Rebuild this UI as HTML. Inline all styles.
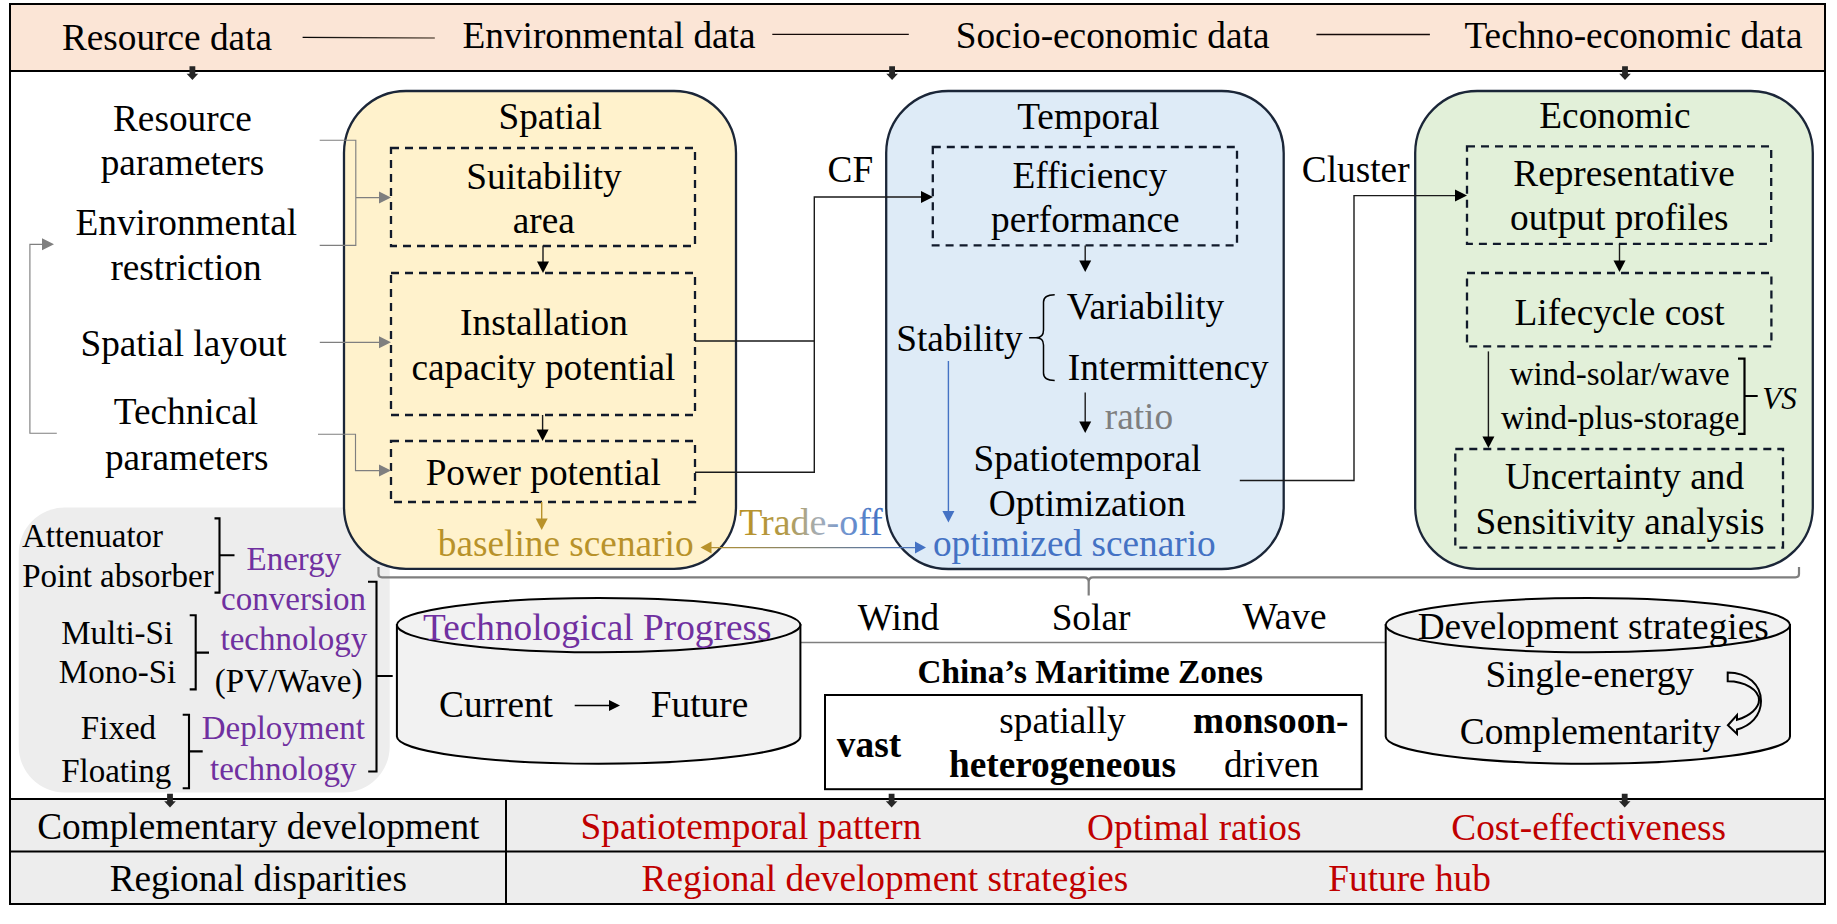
<!DOCTYPE html>
<html><head><meta charset="utf-8"><style>
html,body{margin:0;padding:0;background:#fff;overflow:hidden;}
svg{display:block;}
text{font-family:"Liberation Serif",serif;font-kerning:normal;}
</style></head><body>
<svg width="1837" height="924" viewBox="0 0 1837 924">
<defs>
<linearGradient id="tg" gradientUnits="userSpaceOnUse" x1="745" y1="0" x2="880" y2="0">
<stop offset="0" stop-color="#B8922A"/><stop offset="0.3" stop-color="#B29A4A"/><stop offset="0.55" stop-color="#A6AEB8"/><stop offset="0.75" stop-color="#6F93CF"/><stop offset="1" stop-color="#4472C4"/>
</linearGradient>
<linearGradient id="lg" gradientUnits="userSpaceOnUse" x1="700" y1="0" x2="926" y2="0">
<stop offset="0" stop-color="#B8922A"/><stop offset="1" stop-color="#4472C4"/>
</linearGradient>
<linearGradient id="hg" gradientUnits="userSpaceOnUse" x1="302" y1="0" x2="435" y2="0"><stop offset="0" stop-color="#000"/><stop offset="1" stop-color="#6f5f51"/></linearGradient>
</defs>
<rect x="0" y="0" width="1837" height="924" fill="#fff"/>
<!-- header band -->
<rect x="10" y="4" width="1815" height="67" fill="#FBE5D6"/>
<!-- table fill -->
<rect x="10" y="799" width="1815" height="105" fill="#EDEDED"/>
<!-- gray panel -->
<rect x="18.7" y="507.6" width="371" height="284.8" rx="46" fill="#EDEDED"/>
<!-- big rounded boxes -->
<g stroke="#1B2638" stroke-width="2.3">
<rect x="344" y="91" width="392" height="477.8" rx="62" fill="#FFF2CC"/>
<rect x="886.2" y="91" width="397.5" height="478" rx="62" fill="#DEEBF7"/>
<rect x="1415.2" y="91" width="397.6" height="477.8" rx="62" fill="#E2F0D9"/>
</g>
<!-- dashed boxes -->
<g fill="none" stroke="#111a2b" stroke-width="2.3" stroke-dasharray="8 6">
<rect x="391" y="148" width="304" height="98"/>
<rect x="391" y="273" width="304" height="142"/>
<rect x="391" y="441" width="304" height="61"/>
<rect x="932.8" y="147" width="304.2" height="98.4"/>
<rect x="1467" y="146.3" width="304.2" height="97.5"/>
<rect x="1467" y="273" width="304.4" height="73.4"/>
<rect x="1455.3" y="449" width="327.7" height="98.6"/>
</g>
<!-- outer frame and table lines -->
<g fill="none" stroke="#000" stroke-width="2">
<rect x="10" y="4" width="1815" height="900"/>
<line x1="10" y1="71" x2="1825" y2="71"/>
<line x1="10" y1="799" x2="1825" y2="799"/>
<line x1="10" y1="851.5" x2="1825" y2="851.5"/>
<line x1="506" y1="799" x2="506" y2="904"/>
</g>
<!-- header separator lines -->
<line x1="302.6" y1="37.4" x2="434.8" y2="38" stroke="url(#hg)" stroke-width="1.4"/>
<g stroke="#140a08" stroke-width="1.3">
<line x1="772.3" y1="34.4" x2="908.8" y2="34.4"/>
<line x1="1316.4" y1="34.5" x2="1429.9" y2="34.5"/>
</g>
<!-- block arrows -->
<g fill="#262626">
<path id="ba" d="M189.5,66.2 H195.3 V73.8 H198.2 L192.4,79.9 L186.6,73.8 H189.5 Z"/>
<use href="#ba" x="699.7"/><use href="#ba" x="1432.6"/>
<use href="#ba" x="-22.4" y="727.5"/><use href="#ba" x="699.2" y="727.5"/><use href="#ba" x="1432.3" y="727.5"/>
</g>
<!-- gray connectors -->
<g fill="none" stroke="#7F7F7F" stroke-width="1.15">
<path d="M319.7,140.2 H355.8 V245.3 H319.7 M355.8,197.6 H381"/>
<path d="M319.8,342.3 H381"/>
<path d="M318,434.2 H355.5 V470.6 H381"/>
<path d="M56.8,433.2 H29.9 V244.3 H44"/>
</g>
<g fill="#7F7F7F">
<path d="M391,197.6 l-12,-6 v12 z"/>
<path d="M391,342.3 l-12,-6 v12 z"/>
<path d="M391,470.6 l-12,-6 v12 z"/>
<path d="M54,244.3 l-12,-6 v12 z"/>
</g>
<!-- black connectors -->
<g fill="none" stroke="#1a1a1a" stroke-width="1.4">
<path d="M695,341 H814.3 V197 H922"/>
<path d="M695,472.3 H814.3 V341"/>
<path d="M1239.8,480.5 H1354 V195.6 H1456"/>
<path d="M543,245.5 V263"/>
<path d="M542.6,415 V431"/>
<path d="M1085.2,245.5 V262"/>
<path d="M1085.2,392.6 V423"/>
<path d="M1619.5,244 V262"/>
<path d="M1488.4,351.4 V437"/>
</g>
<g fill="#000">
<path d="M933,197 l-12,-6 v12 z"/>
<path d="M1467,195.6 l-12,-6 v12 z"/>
<path d="M543,273 l-6,-11.5 h12 z"/>
<path d="M542.6,441 l-6,-11.5 h12 z"/>
<path d="M1085.2,272 l-6,-11.5 h12 z"/>
<path d="M1085.2,433 l-6,-11.5 h12 z"/>
<path d="M1619.5,272 l-6,-11.5 h12 z"/>
<path d="M1488.4,448 l-6,-11.5 h12 z"/>
</g>
<!-- gold arrow -->
<path d="M541.7,502 V520" stroke="#B8922A" stroke-width="1.4"/>
<path d="M541.7,530 l-6,-11.5 h12 z" fill="#B8922A"/>
<!-- blue arrow -->
<path d="M948.4,361 V512" stroke="#4472C4" stroke-width="1.4"/>
<path d="M948.4,522.5 l-6,-11.5 h12 z" fill="#4472C4"/>
<!-- trade-off double arrow -->
<path d="M710,547.6 H916" stroke="url(#lg)" stroke-width="1.4"/>
<path d="M700.5,547.6 l11,-6 v12 z" fill="#B8922A"/>
<path d="M926,547.6 l-11,-6 v12 z" fill="#4472C4"/>
<!-- brace under boxes -->
<path d="M378.5,567 V574 Q378.5,577.3 382,577.3 H1084 Q1088.7,577.3 1088.7,582 V595.4 M1088.7,582 Q1088.7,577.3 1093,577.3 H1795.5 Q1799,577.3 1799,574 V567" fill="none" stroke="#7F7F7F" stroke-width="2.2"/>
<!-- stability brace -->
<path d="M1054.7,294.7 Q1043.5,294.7 1043.5,302 V330 Q1043.5,337.8 1036,337.8 H1029.1 M1036,337.8 Q1043.5,337.8 1043.5,345 V373 Q1043.5,380.5 1054.7,380.5" fill="none" stroke="#000" stroke-width="1.5"/>
<!-- VS bracket -->
<path d="M1738,358.6 H1744.5 V433.9 H1738 M1744.5,396 H1757.7" fill="none" stroke="#000" stroke-width="2.2"/>
<!-- gray panel brackets -->
<g fill="none" stroke="#000" stroke-width="2.1">
<path d="M214.5,518.4 H219.5 V592.6 H214.5 M219.5,555.2 H234.5"/>
<path d="M189.7,615.2 H195.7 V689.4 H189.7 M195.7,652.6 H209"/>
<path d="M182.7,714.8 H189 V788.2 H182.7 M189,751.4 H202.7"/>
<path d="M368,581.8 H376.5 V771.5 H368.2 M376.5,676 H392.7"/>
</g>
<!-- connector between cylinders -->
<line x1="800" y1="642.5" x2="1386" y2="642.5" stroke="#7F7F7F" stroke-width="1.6"/>
<!-- cylinders -->
<g fill="#F2F2F2" stroke="#000" stroke-width="2">
<path d="M396.9,625.1 V736.5 A201.75,27.3 0 0 0 800.4,736.5 V625.1 Z"/>
<ellipse cx="598.65" cy="625.1" rx="201.75" ry="27.1"/>
<path d="M1385.7,625.1 V736.5 A202.15,27.3 0 0 0 1790,736.5 V625.1 Z"/>
<ellipse cx="1587.85" cy="625.1" rx="202.15" ry="27.1"/>
</g>
<!-- current->future arrow -->
<path d="M574.7,705.5 H610" stroke="#000" stroke-width="1.4"/>
<path d="M620,705.5 l-11,-5.5 v11 z" fill="#000"/>
<!-- china box -->
<rect x="825" y="695" width="536.7" height="94.2" fill="#fff" stroke="#000" stroke-width="2"/>
<!-- curved arrow -->
<path d="M1727.7,672.4 C1748,672.4 1761,685 1761,701 C1761,716 1750,726 1737,729.5 L1737,734 L1727.9,725.3 L1737,715.2 L1737,719.8 C1750,716 1759,708 1759,700 C1759,690 1745,681.2 1727.7,681.2 Z" fill="#F2F2F2" stroke="#000" stroke-width="2" stroke-linejoin="miter"/>

<text x="61.88" y="50.30" font-size="37.3" fill="#000">Resource data</text>
<text x="462.44" y="48.00" font-size="37.3" fill="#000">Environmental data</text>
<text x="955.69" y="48.00" font-size="37.3" fill="#000">Socio-economic data</text>
<text x="1464.45" y="48.00" font-size="37.3" fill="#000">Techno-economic data</text>
<text x="112.99" y="130.50" font-size="37.3" fill="#000">Resource</text>
<text x="100.69" y="174.50" font-size="37.3" fill="#000">parameters</text>
<text x="75.46" y="235.00" font-size="37.3" fill="#000">Environmental</text>
<text x="110.39" y="279.50" font-size="37.3" fill="#000">restriction</text>
<text x="80.42" y="355.50" font-size="37.3" fill="#000">Spatial layout</text>
<text x="113.79" y="424.00" font-size="37.3" fill="#000">Technical</text>
<text x="104.94" y="469.50" font-size="37.3" fill="#000">parameters</text>
<text x="498.45" y="128.50" font-size="37.3" fill="#000">Spatial</text>
<text x="466.29" y="188.50" font-size="37.3" fill="#000">Suitability</text>
<text x="512.71" y="232.50" font-size="37.3" fill="#000">area</text>
<text x="460.09" y="335.00" font-size="37.3" fill="#000">Installation</text>
<text x="411.41" y="380.00" font-size="37.3" fill="#000">capacity potential</text>
<text x="425.63" y="484.50" font-size="37.3" fill="#000">Power potential</text>
<text x="437.75" y="556.00" font-size="37.3" fill="#B8922A">baseline scenario</text>
<text x="827.59" y="182.20" font-size="37.3" fill="#000">CF</text>
<text x="739.22" y="535.20" font-size="38" fill="url(#tg)">Trade-off</text>
<text x="1017.20" y="128.50" font-size="37.3" fill="#000">Temporal</text>
<text x="1012.43" y="188.40" font-size="37.3" fill="#000">Efficiency</text>
<text x="991.12" y="232.40" font-size="37.3" fill="#000">performance</text>
<text x="896.25" y="351.10" font-size="37.3" fill="#000">Stability</text>
<text x="1066.73" y="319.10" font-size="37.3" fill="#000">Variability</text>
<text x="1067.73" y="380.10" font-size="37.3" fill="#000">Intermittency</text>
<text x="1104.72" y="429.00" font-size="37.3" fill="#7F7F7F">ratio</text>
<text x="973.45" y="471.00" font-size="37.3" fill="#000">Spatiotemporal</text>
<text x="988.73" y="515.70" font-size="37.3" fill="#000">Optimization</text>
<text x="932.97" y="555.50" font-size="37.3" fill="#4472C4">optimized scenario</text>
<text x="1301.83" y="181.70" font-size="37.3" fill="#000">Cluster</text>
<text x="1539.34" y="127.80" font-size="37.3" fill="#000">Economic</text>
<text x="1513.28" y="186.30" font-size="37.3" fill="#000">Representative</text>
<text x="1510.05" y="229.90" font-size="37.3" fill="#000">output profiles</text>
<text x="1514.54" y="324.60" font-size="37.3" fill="#000">Lifecycle cost</text>
<text x="1509.79" y="385.30" font-size="33.0" fill="#000">wind-solar/wave</text>
<text x="1501.11" y="429.10" font-size="33.0" fill="#000">wind-plus-storage</text>
<text x="1762.33" y="408.70" font-size="31" font-style="italic" fill="#000">VS</text>
<text x="1504.88" y="489.30" font-size="37.3" fill="#000">Uncertainty and</text>
<text x="1475.46" y="534.00" font-size="37.3" fill="#000">Sensitivity analysis</text>
<text x="21.99" y="547.00" font-size="33.0" fill="#000">Attenuator</text>
<text x="22.13" y="587.10" font-size="33.0" fill="#000">Point absorber</text>
<text x="246.50" y="570.20" font-size="33.0" fill="#7030A0">Energy</text>
<text x="221.11" y="609.80" font-size="33.0" fill="#7030A0">conversion</text>
<text x="220.53" y="649.90" font-size="33.0" fill="#7030A0">technology</text>
<text x="214.84" y="692.10" font-size="33.0" fill="#000">(PV/Wave)</text>
<text x="61.22" y="643.80" font-size="33.0" fill="#000">Multi-Si</text>
<text x="58.83" y="683.40" font-size="33.0" fill="#000">Mono-Si</text>
<text x="80.86" y="738.90" font-size="33.0" fill="#000">Fixed</text>
<text x="61.15" y="781.80" font-size="33.0" fill="#000">Floating</text>
<text x="201.73" y="739.30" font-size="33.0" fill="#7030A0">Deployment</text>
<text x="209.98" y="779.50" font-size="33.0" fill="#7030A0">technology</text>
<text x="422.98" y="639.70" font-size="37.3" fill="#7030A0">Technological Progress</text>
<text x="439.03" y="717.40" font-size="37.3" fill="#000">Current</text>
<text x="650.85" y="717.40" font-size="37.3" fill="#000">Future</text>
<text x="857.82" y="629.90" font-size="37.3" fill="#000">Wind</text>
<text x="1051.63" y="629.90" font-size="37.3" fill="#000">Solar</text>
<text x="1242.51" y="628.60" font-size="37.3" fill="#000">Wave</text>
<text x="917.59" y="683.20" font-size="33.2" font-weight="bold" fill="#000">China’s Maritime Zones</text>
<text x="836.83" y="756.50" font-size="37.3" font-weight="bold" fill="#000">vast</text>
<text x="999.31" y="733.30" font-size="37.3" fill="#000">spatially</text>
<text x="948.93" y="777.30" font-size="37.3" font-weight="bold" fill="#000">heterogeneous</text>
<text x="1193.08" y="733.30" font-size="37.3" font-weight="bold" fill="#000">monsoon-</text>
<text x="1223.91" y="777.30" font-size="37.3" fill="#000">driven</text>
<text x="1417.64" y="638.50" font-size="37.3" fill="#000">Development strategies</text>
<text x="1485.47" y="687.00" font-size="37.3" fill="#000">Single-energy</text>
<text x="1459.78" y="744.10" font-size="37.3" fill="#000">Complementarity</text>
<text x="37.15" y="838.60" font-size="37.3" fill="#000">Complementary development</text>
<text x="109.64" y="891.00" font-size="37.3" fill="#000">Regional disparities</text>
<text x="580.55" y="838.60" font-size="37.3" fill="#C00000">Spatiotemporal pattern</text>
<text x="1087.08" y="840.40" font-size="37.3" fill="#C00000">Optimal ratios</text>
<text x="1451.34" y="840.40" font-size="37.3" fill="#C00000">Cost-effectiveness</text>
<text x="641.58" y="890.50" font-size="37.3" fill="#C00000">Regional development strategies</text>
<text x="1328.27" y="891.20" font-size="37.3" fill="#C00000">Future hub</text>
</svg>
</body></html>
